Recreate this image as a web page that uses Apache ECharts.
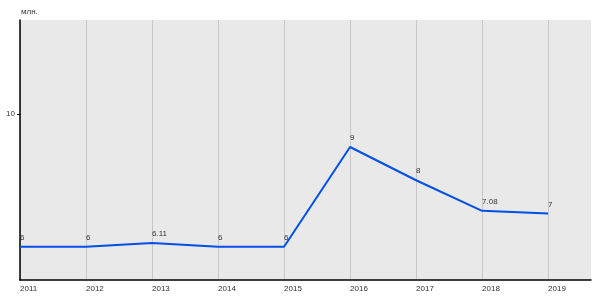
<!DOCTYPE html>
<html>
<head>
<meta charset="utf-8">
<script src="https://cdn.jsdelivr.net/npm/echarts@6/dist/echarts.min.js"></script>
<style>html,body{margin:0;padding:0;background:#fff;}#c{width:600px;height:300px;}</style>
</head>
<body>
<div id="c"></div>
<script>
const years = [2011, 2012, 2013, 2014, 2015, 2016, 2017, 2018, 2019];
const values = [6, 6, 6.11, 6, 6, 9, 8, 7.08, 7];
const yTicks = [10];
const unit = 'млн.';

const chart = echarts.init(document.getElementById('c'), null, {renderer: 'canvas'});
const font = 'Liberation Sans, Arial, sans-serif';
chart.setOption({
  animation: false,
  title: {
    text: unit, left: 19, top: 4, padding: [4, 2, 4, 2],
    textStyle: {fontSize: 8, fontWeight: 'normal', color: '#333', fontFamily: font}
  },
  grid: {
    left: 20, right: 9, top: 20, bottom: 20,
    show: true, backgroundColor: '#e9e9e9', borderWidth: 0
  },
  xAxis: {
    type: 'value', min: 2011, max: 2019.65, interval: 1,
    axisLine: {show: true, onZero: false, lineStyle: {color: '#000', width: 1.5}},
    axisTick: {show: false},
    axisLabel: {
      customValues: years,
      formatter: v => String(v),
      align: 'left', margin: 5,
      fontSize: 8, color: '#333', fontFamily: font
    },
    splitLine: {show: true, lineStyle: {color: ['#c8c8c8','#c8c8c8','#c8c8c8','#c8c8c8','#c8c8c8','#c8c8c8','#c8c8c8','#c8c8c8','#c8c8c8','rgba(0,0,0,0)'], width: 1}}
  },
  yAxis: {
    type: 'value', min: 5, max: 12.82, interval: 5,
    axisLine: {show: true, lineStyle: {color: '#000', width: 1.5}},
    axisTick: {show: true, customValues: yTicks, length: 3, lineStyle: {color: '#000'}},
    axisLabel: {
      customValues: yTicks,
      margin: 5, fontSize: 8, color: '#333', fontFamily: font,
      padding: [0, 0, 6, 0]
    },
    splitLine: {show: true, lineStyle: {color: ['rgba(0,0,0,0)', '#c8c8c8', 'rgba(0,0,0,0)'], width: 1}}
  },
  series: [{
    type: 'line',
    data: years.map((y, i) => [y, values[i]]),
    symbol: 'circle', symbolSize: 0, showSymbol: true,
    itemStyle: {color: '#0050e6', opacity: 0},
    lineStyle: {color: '#0050e6', width: 2, opacity: 1},
    label: {
      show: true, position: 'top', align: 'left', distance: 5,
      formatter: p => String(p.value[1]),
      fontSize: 8, color: '#333', fontFamily: font, opacity: 1
    }
  }]
});
</script>
</body>
</html>
